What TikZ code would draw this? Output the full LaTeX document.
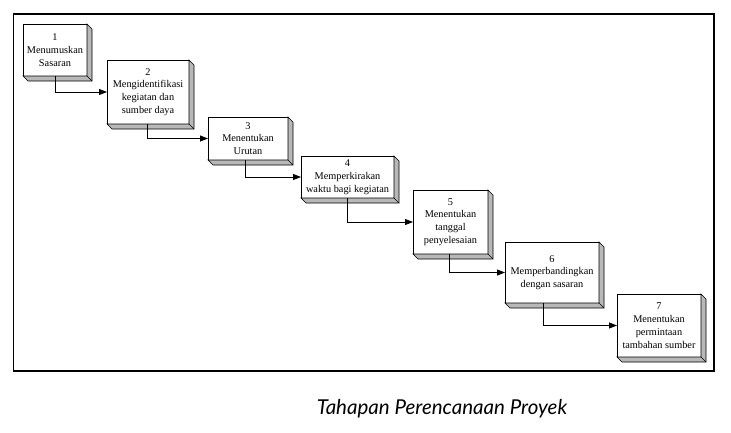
\documentclass[tikz,border=0pt]{standalone}
\usepackage{fontspec}
\setmainfont{Liberation Serif}
\newfontfamily\capfont{Lato}
\usetikzlibrary{arrows.meta}
\definecolor{shade}{HTML}{B8B8B8}
\tikzset{
  stepbox/.style={draw, fill=white, line width=0.8pt, align=center, inner sep=0pt, outer sep=0pt,
    font=\fontsize{10.3}{12.8}\selectfont},
  shadeface/.style={fill=shade, draw=black, line width=0.6pt, line join=miter},
  conn/.style={-{Triangle[length=8pt,width=6pt]}, line width=0.8pt},
  frame/.style={line width=1.4pt},
  captext/.style={font=\capfont\itshape\fontsize{20.5}{22}\selectfont},
}
\newcommand\shbox[6]{%
  \node[stepbox, minimum width=#4pt, minimum height=#5pt] (#1) at (#2,#3) {#6};
  \filldraw[shadeface] (#1.north east) -- ([shift={(5,5)}]#1.north east)
    -- ([shift={(5,5)}]#1.south east) -- ([shift={(5,5)}]#1.south west)
    -- (#1.south west) -- (#1.south east) -- cycle;
  \draw[line width=0.6pt] (#1.south east) -- ([shift={(5,5)}]#1.south east);
}
\begin{document}
\begin{tikzpicture}[x=1pt,y=-1pt]
\useasboundingbox[fill=white] (0,0) rectangle (731,432);
\draw[frame] (13.5,14) rectangle (714,371);
\shbox{b1}{55}{50}{64}{52}{1\\Menumuskan\\Sasaran}
\shbox{b2}{148}{92}{82}{64}{2\\Mengidentifikasi\\kegiatan dan\\sumber daya}
\shbox{b3}{248}{138.5}{80}{43}{3\\Menentukan\\Urutan}
\shbox{b4}{347.5}{177}{93}{42}{4\\Memperkirakan\\waktu bagi kegiatan}
\shbox{b5}{450.5}{222}{75}{64}{5\\Menentukan\\tanggal\\penyelesaian}
\shbox{b6}{552}{272.5}{94}{61}{6\\Memperbandingkan\\dengan sasaran}
\shbox{b7}{659}{325.5}{84}{63}{7\\Menentukan\\permintaan\\tambahan sumber}
\draw[conn] (b1.south) |- (b2.west);
\draw[conn] ([xshift=-1pt]b2.south) |- (b3.west);
\draw[conn] ([xshift=-3pt]b3.south) |- (b4.west);
\draw[conn] (b4.south) |- (b5.west);
\draw[conn] ([xshift=-1.5pt]b5.south) |- (b6.west);
\draw[conn] ([xshift=-9pt]b6.south) |- (b7.west);
\node[captext] (cap) at (442,409) {Tahapan Perencanaan Proyek};
\end{tikzpicture}
\end{document}
